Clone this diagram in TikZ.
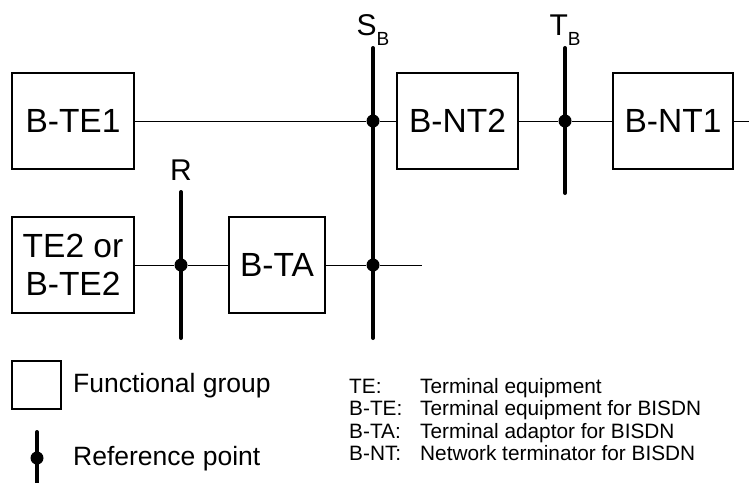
\documentclass[tikz,border=0pt]{standalone}
\usepackage{fontspec}
\setmainfont{Liberation Sans}
\usetikzlibrary{positioning, calc}

\begin{document}
\begin{tikzpicture}[
        x=1pt, y=-1pt,
        group/.style={rectangle, draw=black, line width=1.2pt, minimum width=122pt, minimum height=96pt, inner sep=0pt, align=center, font=\fontsize{33.5}{38}\selectfont},
        refbar/.style={draw=black, line width=4pt, line cap=round},
        link/.style={draw=black, line width=0.9pt},
        refdot/.style={circle, fill=black, inner sep=0pt, minimum size=13pt},
        reflabel/.style={inner sep=0pt, font=\fontsize{30}{36}\selectfont},
        legend/.style={anchor=base west, inner sep=0pt, font=\fontsize{26.5}{30}\selectfont},
        abbrev/.style={anchor=base west, inner sep=0pt, font=\fontsize{20.8}{24}\selectfont}
    ]
    \fill [white] (0,0) rectangle (749,482);
    \useasboundingbox (0,0) rectangle (749,482);

    % Functional groups
    \node (bte1) [group] at (73,121) {B-TE1};
    \node (bnt2) [group, minimum width=121pt] at (457.5,121) {B-NT2};
    \node (bnt1) [group, minimum width=120pt] at (673,121) {B-NT1};
    \node (te2) [group] at (73,265) {TE2 or\\B-TE2};
    \node (bta) [group, minimum width=96pt] at (277,265) {B-TA};

    % Reference points
    \coordinate (sbtop) at (373,48);
    \coordinate (sbbot) at (373,338);
    \coordinate (tbtop) at (565,48);
    \coordinate (tbbot) at (565,193);
    \coordinate (rtop) at (181,192);
    \coordinate (rbot) at (181,338);
    \node (sbup) [refdot] at (373,121) {};
    \node (sbdown) [refdot] at (373,265) {};
    \node (tb) [refdot] at (565,121) {};
    \node (r) [refdot] at (181,265) {};
    \node (sblabel) [reflabel, anchor=base] at (373,35) {S\raisebox{-10pt}{\fontsize{19}{19}\selectfont B}};
    \node (tblabel) [reflabel, anchor=base] at (565,35) {T\raisebox{-10pt}{\fontsize{19}{19}\selectfont B}};
    \node (rlabel) [reflabel] at (181,170) {R};
    \coordinate (netend) at (749,121);
    \coordinate (taend) at (422,265);

    \draw [refbar] (sbtop) -- (sbbot);
    \draw [refbar] (tbtop) -- (tbbot);
    \draw [refbar] (rtop) -- (rbot);

    % Connectors
    \draw [link] (bte1) -- (sbup) -- (bnt2);
    \draw [link] (bnt2) -- (tb) -- (bnt1);
    \draw [link] (bnt1) -- (netend);
    \draw [link] (te2) -- (r) -- (bta);
    \draw [link] (bta) -- (sbdown) -- (taend);

    % Legend
    \node (lgbox) [group, minimum width=49pt, minimum height=48pt] at (36.5,385) {};
    \node (lgboxtext) [legend] at (73,392) {Functional group};
    \coordinate (lgtop) at (37,432);
    \coordinate (lgbot) at (37,484);
    \draw [refbar] (lgtop) -- (lgbot);
    \node (lgdot) [refdot] at (37,458) {};
    \node (lgdottext) [legend] at (73,465) {Reference point};

    \node (te) [abbrev] at (349,393) {TE:};
    \node (tetext) [abbrev] at (420,393) {Terminal equipment};
    \node (bte) [abbrev] at (349,415.5) {B-TE:};
    \node (btetext) [abbrev] at (420,415.5) {Terminal equipment for BISDN};
    \node (bta2) [abbrev] at (349,438) {B-TA:};
    \node (bta2text) [abbrev] at (420,438) {Terminal adaptor for BISDN};
    \node (bnt) [abbrev] at (349,460.5) {B-NT:};
    \node (bnttext) [abbrev] at (420,460.5) {Network terminator for BISDN};
\end{tikzpicture}
\end{document}
